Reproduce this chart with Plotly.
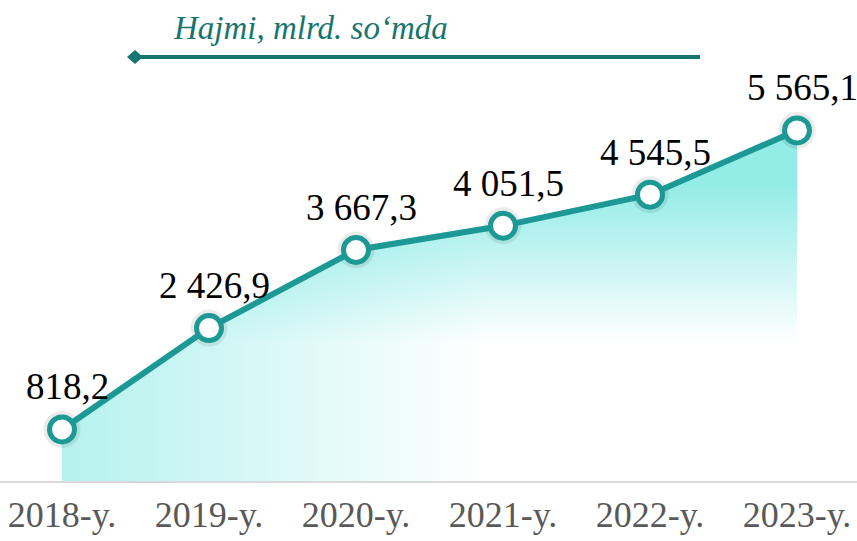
import plotly.graph_objects as go

years = ["2018-y.", "2019-y.", "2020-y.", "2021-y.", "2022-y.", "2023-y."]
values = [818.2, 2426.9, 3667.3, 4051.5, 4545.5, 5565.1]
labels = ["818,2", "2 426,9", "3 667,3", "4 051,5", "4 545,5", "5 565,1"]
title_text = "Hajmi, mlrd. so\u2018mda"

xs = list(range(len(years)))
TEAL = "#1C9995"
DARK_TEAL = "#17756F"
SERIF = "Liberation Serif, Times New Roman, serif"

fig = go.Figure()

# horizontal gradient fill (stronger at left)
fig.add_trace(go.Scatter(
    x=xs, y=values, mode="none", fill="tozeroy", hoverinfo="skip",
    fillgradient=dict(type="horizontal", start=0, stop=2.9,
                      colorscale=[[0, "rgba(70,222,214,0.40)"], [1, "rgba(70,222,214,0)"]]),
    showlegend=False,
))
# vertical gradient fill (stronger near the line at top)
fig.add_trace(go.Scatter(
    x=xs, y=values, mode="none", fill="tozeroy", hoverinfo="skip",
    fillgradient=dict(type="vertical", start=2200, stop=4700,
                      colorscale=[[0, "rgba(70,222,214,0)"], [1, "rgba(70,222,214,0.58)"]]),
    showlegend=False,
))
# soft shadow for markers
fig.add_trace(go.Scatter(
    x=xs, y=values, mode="markers", hoverinfo="skip", showlegend=False,
    marker=dict(size=37, color="rgba(0,0,0,0.08)", line=dict(width=0)),
))
# main line with markers
fig.add_trace(go.Scatter(
    x=xs, y=values, mode="lines+markers", showlegend=False,
    line=dict(color=TEAL, width=6),
    marker=dict(size=25, color="white", line=dict(color=TEAL, width=5)),
))

annotations = []
for x, v, t in zip(xs, values, labels):
    annotations.append(dict(
        x=x, y=v, xref="x", yref="y", text=t, showarrow=False,
        xanchor="center", yanchor="bottom", xshift=5, yshift=20,
        font=dict(family=SERIF, size=37, color="#000000"),
    ))

annotations.append(dict(
    x=310 / 857, y=(481 - 28) / 441, xref="paper", yref="paper",
    text="<i>" + title_text + "</i>", showarrow=False,
    xanchor="center", yanchor="middle",
    font=dict(family=SERIF, size=33, color=DARK_TEAL),
))

# decorative arrow line with diamond head
ly = (481 - 57) / 441
shapes = [
    dict(type="line", xref="paper", yref="paper",
         x0=135 / 857, x1=700 / 857, y0=ly, y1=ly,
         line=dict(color=DARK_TEAL, width=4)),
    dict(type="path", xref="paper", yref="paper",
         path="M {x0} {y} L {xm} {yt} L {x1} {y} L {xm} {yb} Z".format(
             x0=127 / 857, x1=143 / 857, xm=135 / 857, y=ly,
             yt=(481 - 50) / 441, yb=(481 - 64) / 441),
         fillcolor=DARK_TEAL, line=dict(width=0)),
]

fig.update_layout(
    width=857, height=541,
    margin=dict(l=0, r=0, t=40, b=60),
    paper_bgcolor="white", plot_bgcolor="white",
    annotations=annotations, shapes=shapes,
    xaxis=dict(
        range=[-62 / 147, 5 + 60 / 147],
        tickmode="array", tickvals=xs, ticktext=years,
        showgrid=False, zeroline=False, automargin=False,
        showline=True, linecolor="#D9D9D9", linewidth=2,
        ticks="", ticklabelstandoff=1,
        tickfont=dict(family=SERIF, size=36, color="#595959"),
    ),
    yaxis=dict(range=[0, 7000], visible=False, showgrid=False,
               zeroline=False, automargin=False),
)

fig.write_html(
    "out.html",
    config={"displayModeBar": False},
    post_script="document.body.style.margin='0';document.body.style.overflow='hidden';",
)
